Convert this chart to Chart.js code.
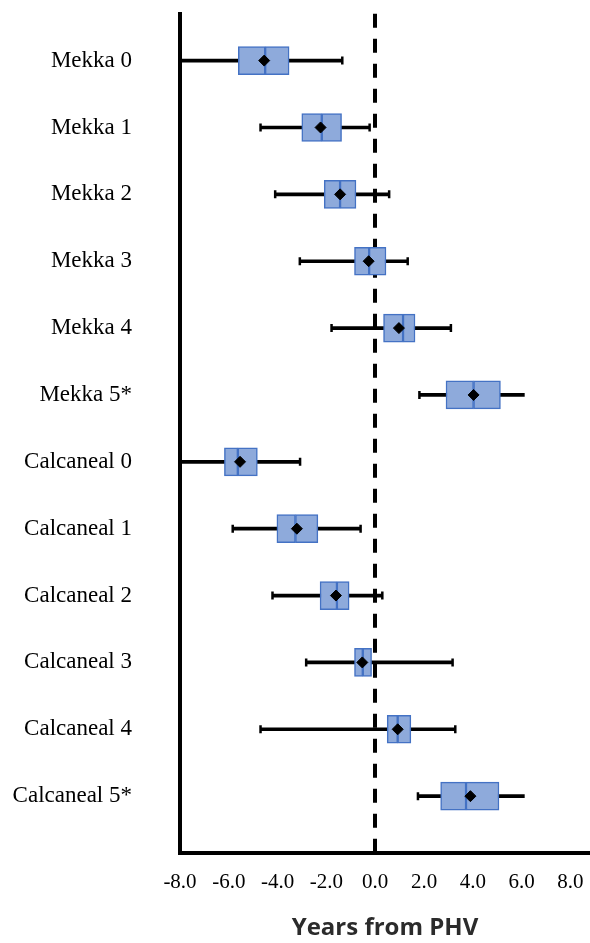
<!DOCTYPE html>
<html lang="en">
<head>
  <meta charset="UTF-8">
  <title>Years from PHV</title>
  <script src="https://cdn.jsdelivr.net/npm/chart.js"></script>
  <style>
    body {
      margin: 0;
      background-color: #fff;
    }
  </style>
</head>
<body>
  <canvas id="phvChart" width="590" height="943"></canvas>

  <script>
    // Groups, top to bottom
    var categories = ['Mekka 0', 'Mekka 1', 'Mekka 2', 'Mekka 3', 'Mekka 4', 'Mekka 5*',
      'Calcaneal 0', 'Calcaneal 1', 'Calcaneal 2', 'Calcaneal 3', 'Calcaneal 4', 'Calcaneal 5*'];

    // Years from PHV
    var whiskerLow  = [-8.00, -4.70, -4.10, -3.09, -1.79, 1.81, -8.00, -5.84, -4.21, -2.83, -4.70, 1.75];
    var boxLow      = [-5.61, -3.01, -2.09, -0.85, 0.34, 2.90, -6.18, -4.03, -2.26, -0.85, 0.49, 2.68];
    var medians     = [-4.51, -2.19, -1.44, -0.25, 1.14, 4.03, -5.63, -3.27, -1.57, -0.51, 0.92, 3.72];
    var boxHigh     = [-3.53, -1.38, -0.79, 0.44, 1.63, 5.13, -4.83, -2.35, -1.07, -0.15, 1.46, 5.07];
    var whiskerHigh = [-1.35, -0.23, 0.57, 1.33, 3.10, 6.11, -3.08, -0.60, 0.29, 3.17, 3.28, 6.11];
    var means       = [-4.55, -2.24, -1.44, -0.27, 0.97, 4.03, -5.54, -3.21, -1.61, -0.53, 0.92, 3.90];

    // whiskers drawn without an end cap on the right
    var openHigh = ['Mekka 5*', 'Calcaneal 5*'];

    var xTicks = [-8, -6, -4, -2, 0, 2, 4, 6, 8];

    var rows = categories.map(function (c, i) { return i; });

    function spans(lo, hi) {
      return rows.map(function (i) { return { x: [lo[i], hi[i]], y: i }; });
    }
    function points(vals) {
      return rows.map(function (i) { return { x: vals[i], y: i }; });
    }

    var caps = [];
    rows.forEach(function (i) {
      caps.push({ x: whiskerLow[i], y: i });
      if (openHigh.indexOf(categories[i]) === -1) {
        caps.push({ x: whiskerHigh[i], y: i });
      }
    });

    var boxFill = '#8eaadb';
    var boxLine = '#4472c4';
    var clear = 'rgba(0,0,0,0)';

    var boxStyle = {
      type: 'bar',
      backgroundColor: boxFill,
      borderColor: boxLine,
      borderWidth: 1.5,
      borderSkipped: false,
      grouped: false,
      barThickness: 28,
      barPercentage: 1,
      order: 2
    };

    var ctx = document.getElementById('phvChart').getContext('2d');

    var phvChart = new Chart(ctx, {
      type: 'bar',
      data: {
        datasets: [
          {
            type: 'scatter',
            data: points(means),
            pointStyle: 'rectRot',
            pointRadius: 5.5,
            pointBackgroundColor: '#000',
            pointBorderColor: '#000',
            pointBorderWidth: 1,
            order: 0
          },
          {
            type: 'scatter',
            data: caps,
            pointStyle: 'line',
            pointRotation: 90,
            pointRadius: 4,
            pointBorderColor: '#000',
            pointBorderWidth: 2.5,
            order: 1
          },
          Object.assign({ data: spans(boxLow, medians) }, boxStyle),
          Object.assign({ data: spans(medians, boxHigh) }, boxStyle),
          {
            type: 'bar',
            data: spans(whiskerLow, whiskerHigh),
            backgroundColor: '#000',
            borderWidth: 0,
            grouped: false,
            barThickness: 3,
            barPercentage: 1,
            order: 3
          }
        ]
      },
      options: {
        indexAxis: 'y',
        responsive: false,
        animation: false,
        layout: {
          autoPadding: false,
          padding: { top: 13, right: 0, bottom: 0, left: 0 }
        },
        plugins: {
          legend: { display: false },
          tooltip: { enabled: false }
        },
        scales: {
          x: {
            type: 'linear',
            position: 'bottom',
            min: -8,
            max: 8.8,
            offset: false,
            z: 1,
            afterBuildTicks: function (scale) {
              scale.ticks = xTicks.map(function (v) { return { value: v }; });
            },
            afterFit: function (scale) {
              scale.height = 90;
            },
            ticks: {
              autoSkip: false,
              maxRotation: 0,
              padding: 0,
              color: '#000',
              font: { family: 'Liberation Serif', size: 21 },
              callback: function (value) { return Number(value).toFixed(1); }
            },
            grid: {
              offset: false,
              drawTicks: true,
              tickLength: 17,
              tickWidth: 0,
              tickColor: clear,
              color: function (c) { return c.tick && c.tick.value === 0 ? '#000' : clear; },
              lineWidth: function (c) { return c.tick && c.tick.value === 0 ? 4 : 0; }
            },
            border: { display: true, color: '#000', width: 4, dash: [14, 11] },
            title: {
              display: true,
              text: 'Years from PHV',
              color: '#2b2b2b',
              font: { family: 'Open Sans', size: 24, weight: 'bold' },
              padding: { top: 0, bottom: 0 }
            }
          },
          y: {
            type: 'linear',
            reverse: true,
            min: -0.7,
            max: 11.85,
            offset: false,
            afterBuildTicks: function (scale) {
              scale.ticks = rows.map(function (i) { return { value: i }; });
            },
            afterFit: function (scale) {
              scale.width = 180;
            },
            ticks: {
              autoSkip: false,
              padding: 0,
              color: '#000',
              font: { family: 'Liberation Serif', size: 23 },
              callback: function (value) { return categories[value]; }
            },
            grid: {
              offset: false,
              drawOnChartArea: false,
              drawTicks: true,
              tickLength: 48,
              tickWidth: 0,
              tickColor: clear
            },
            border: { display: true, color: '#000', width: 4 }
          }
        }
      }
    });
  </script>
</body>
</html>
